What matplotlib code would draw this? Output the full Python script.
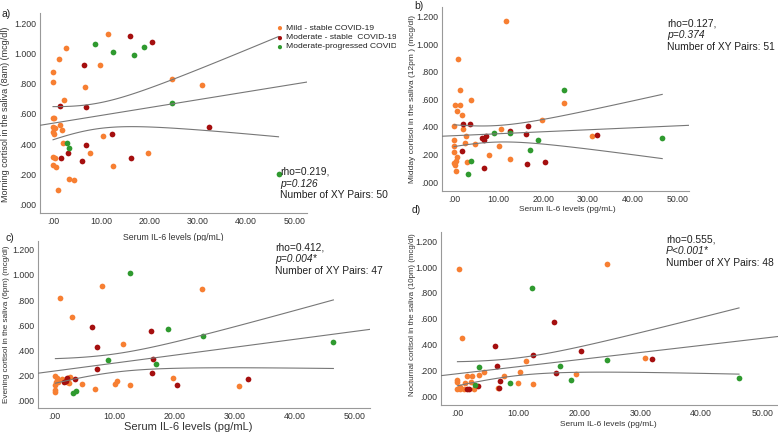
import numpy as np
import matplotlib
matplotlib.use("Agg")
import matplotlib.pyplot as plt
from matplotlib.transforms import Bbox

plt.rcParams['font.family'] = ['Liberation Sans', 'DejaVu Sans']

# Panel a : morning cortisol (8am)
a_mild_x = [11.4, 2.7, 1.2, 0.0, 0.0, 9.8, 6.7, 2.2, 24.7, 30.9, 0.0, 0.3, 1.5, 0.0, 0.5,
            1.8, 0.0, 0.2, 10.3, 2.1, 7.7, 19.6, 0.0, 0.5, 0.0, 0.6, 12.4, 3.3, 4.3, 1.0]
a_mild_y = [1.128, 1.035, 0.962, 0.877, 0.813, 0.923, 0.778, 0.694, 0.833, 0.795, 0.575, 0.575,
            0.529, 0.513, 0.507, 0.491, 0.478, 0.467, 0.452, 0.407, 0.339, 0.339, 0.313, 0.306,
            0.264, 0.249, 0.258, 0.167, 0.163, 0.095]
a_mod_x = [16.0, 20.4, 6.4, 1.4, 6.9, 12.3, 32.3, 6.8, 3.2, 1.7, 6.0, 16.2]
a_mod_y = [1.117, 1.075, 0.923, 0.654, 0.648, 0.469, 0.511, 0.392, 0.341, 0.306, 0.286, 0.311]
a_prog_x = [8.7, 12.4, 16.8, 18.8, 24.7, 2.8, 3.4, 46.7]
a_prog_y = [1.066, 1.007, 0.991, 1.044, 0.674, 0.405, 0.374, 0.205]

# Panel b : midday cortisol (12pm)
b_mild_x = [11.6, 0.9, 1.3, 3.7, 24.7, 0.1, 1.4, 0.6, 1.7, 0.0, 2.1, 19.7, 10.5, 0.0, 2.6,
            2.4, 4.6, 0.0, 10.0, 0.0, 0.7, 7.9, 0.4, 0.0, 0.2, 2.9, 12.5, 0.4, 30.8]
b_mild_y = [1.166, 0.895, 0.667, 0.594, 0.575, 0.562, 0.562, 0.514, 0.490, 0.410, 0.385, 0.448,
            0.383, 0.303, 0.332, 0.286, 0.276, 0.264, 0.264, 0.218, 0.184, 0.196, 0.150, 0.136,
            0.126, 0.145, 0.165, 0.080, 0.335]
b_mod_x = [2.1, 3.5, 16.5, 12.5, 16.1, 32.1, 6.3, 7.1, 6.8, 1.7, 16.4, 20.4, 6.8]
b_mod_y = [0.422, 0.424, 0.407, 0.371, 0.347, 0.342, 0.322, 0.334, 0.303, 0.225, 0.133, 0.143, 0.099]
b_prog_x = [24.7, 8.9, 12.6, 18.9, 46.6, 17.0, 3.7, 3.1]
b_prog_y = [0.667, 0.356, 0.356, 0.308, 0.320, 0.236, 0.153, 0.061]

# Panel c : evening cortisol (6pm)
c_mild_x = [8.0, 1.0, 24.7, 2.9, 11.5, 19.8, 10.5, 10.1, 12.6, 6.8, 30.8, 4.6, 0.2, 0.3, 0.2,
            0.2, 0.2, 0.7, 1.3, 1.6, 2.1, 2.5, 2.6, 2.3, 0.5]
c_mild_y = [0.913, 0.817, 0.884, 0.667, 0.446, 0.178, 0.159, 0.130, 0.125, 0.088, 0.114, 0.135,
            0.196, 0.151, 0.125, 0.080, 0.066, 0.151, 0.170, 0.164, 0.151, 0.138, 0.188, 0.178, 0.178]
c_mod_x = [6.3, 16.2, 7.1, 16.5, 7.1, 16.3, 20.4, 32.2, 3.5, 2.1, 1.9, 1.6]
c_mod_y = [0.584, 0.557, 0.428, 0.332, 0.247, 0.215, 0.122, 0.173, 0.173, 0.178, 0.159, 0.151]
c_prog_x = [12.6, 18.9, 24.8, 46.5, 8.9, 16.9, 3.1, 3.7]
c_prog_y = [1.014, 0.573, 0.510, 0.467, 0.321, 0.292, 0.056, 0.072]

# Panel d : nocturnal cortisol (10pm)
d_mild_x = [0.2, 24.5, 0.7, 11.3, 30.7, 19.5, 10.2, 7.7, 9.9, 12.4, 4.4, 3.5, 2.4, 1.6, 0.0,
            0.0, 2.2, 1.3, 0.4, 0.0, 0.4, 1.0, 2.7, 6.6]
d_mild_y = [0.981, 1.020, 0.450, 0.275, 0.298, 0.177, 0.193, 0.159, 0.108, 0.095, 0.193, 0.167,
            0.162, 0.162, 0.131, 0.116, 0.116, 0.103, 0.072, 0.062, 0.059, 0.059, 0.059, 0.069]
d_mod_x = [6.1, 15.9, 20.2, 31.9, 12.4, 6.5, 16.1, 6.9, 3.3, 6.8, 1.5, 1.9]
d_mod_y = [0.393, 0.573, 0.349, 0.288, 0.319, 0.239, 0.180, 0.118, 0.080, 0.064, 0.059, 0.059]
d_prog_x = [12.3, 24.6, 16.8, 3.5, 18.7, 8.7, 2.9, 46.2]
d_prog_y = [0.842, 0.283, 0.239, 0.231, 0.126, 0.103, 0.092, 0.144]

group_names = ['Mild - stable COVID-19', 'Moderate - stable  COVID-19', 'Moderate-progressed COVID-19']
group_colors = ['#f77f32', '#a50f0f', '#2f9a2f']

ylabels = ['Morning cortisol in the saliva (8am) (mcg/dl)',
           'Midday cortisol in the saliva (12pm ) (mcg/dl)',
           'Evening cortisol in the saliva (6pm) (mcg/dl)',
           'Nocturnal cortisol in the saliva (10pm) (mcg/dl)']
stats = [('rho=0.219,', 'p=0.126', 'Number of XY Pairs: 50'),
         ('rho=0.127,', 'p=0.374', 'Number of XY Pairs: 51'),
         ('rho=0.412,', 'p=0.004*', 'Number of XY Pairs: 47'),
         ('rho=0.555,', 'P<0.001*', 'Number of XY Pairs: 48')]
xticks = [0, 10, 20, 30, 40, 50]
yticks = [0, 0.2, 0.4, 0.6, 0.8, 1.0, 1.2]

W, H = 778, 433
fig = plt.figure(figsize=(W / 100, H / 100), dpi=100)


def add_ax(l, t, r, b):
    return fig.add_axes([l / W, 1 - b / H, (r - l) / W, (b - t) / H])


axes = [add_ax(40, 13, 307, 213), add_ax(442, 7, 689, 191),
        add_ax(38, 241, 370, 408), add_ax(441, 232, 778, 405)]
ylims = [(-0.055, 1.268), (-0.065, 1.27), (-0.06, 1.27), (-0.064, 1.27)]
data = [(a_mild_x, a_mild_y, a_mod_x, a_mod_y, a_prog_x, a_prog_y),
        (b_mild_x, b_mild_y, b_mod_x, b_mod_y, b_prog_x, b_prog_y),
        (c_mild_x, c_mild_y, c_mod_x, c_mod_y, c_prog_x, c_prog_y),
        (d_mild_x, d_mild_y, d_mod_x, d_mod_y, d_prog_x, d_prog_y)]
# label placement (axes coords) and target lengths in pixels
ylab_xy = [(-0.131, 0.495), (-0.121, 0.5), (-0.096, 0.5), (-0.086, 0.52)]
ylab_len = [178, 170, 160, 166]
xlab_xy = [(0.498, -0.10), (0.506, -0.082), (0.452, -0.085), (0.496, -0.095)]
xlab_fs = [6.3, 6.0, 8.0, 6.0]
grey = '#777777'
txt = '#333333'

for i, ax in enumerate(axes):
    d = data[i]
    for g in range(3):
        ax.scatter(d[2 * g], d[2 * g + 1], s=17, color=group_colors[g], linewidths=0, zorder=3)

    # linear fit with 95% mean confidence band
    x = np.concatenate([d[0], d[2], d[4]])
    y = np.concatenate([d[1], d[3], d[5]])
    n = len(x)
    k, c0 = np.polyfit(x, y, 1)
    resid = y - (k * x + c0)
    s = np.sqrt(np.sum(resid ** 2) / (n - 2))
    sxx = np.sum((x - x.mean()) ** 2)
    xl = np.linspace(-3, 53, 50)
    ax.plot(xl, k * xl + c0, color=grey, lw=0.8, zorder=4)
    xc = np.linspace(x.min(), x.max(), 100)
    se = s * np.sqrt(1 / n + (xc - x.mean()) ** 2 / sxx)
    ax.plot(xc, k * xc + c0 + 2.01 * se, color=grey, lw=0.8, zorder=4)
    ax.plot(xc, k * xc + c0 - 2.01 * se, color=grey, lw=0.8, zorder=4)

    ax.set_xlim(-2.7, 52.6)
    ax.set_ylim(*ylims[i])
    ax.set_xticks(xticks)
    ax.set_xticklabels(['.00' if v == 0 else f'{v:.2f}' for v in xticks])
    ax.set_yticks(yticks)
    ax.set_yticklabels([f'{v:.3f}'.lstrip('0') if v < 1 else f'{v:.3f}' for v in yticks])
    ax.tick_params(length=0, labelsize=6.3, colors=txt, pad=3)
    for sp in ['top', 'right']:
        ax.spines[sp].set_visible(False)
    for sp in ['left', 'bottom']:
        ax.spines[sp].set_color('#999999')
        ax.spines[sp].set_linewidth(0.8)
    ax.set_xlabel('Serum IL-6 levels (pg/mL)', fontsize=xlab_fs[i], color=txt)
    ax.xaxis.set_label_coords(*xlab_xy[i])
    ax.set_ylabel(ylabels[i], fontsize=6, color=txt, va='center')
    ax.yaxis.set_label_coords(*ylab_xy[i])

# scale the y labels so they span the same length as in the original
fig.canvas.draw()
r = fig.canvas.get_renderer()
for i, ax in enumerate(axes):
    lab = ax.yaxis.label
    h = lab.get_window_extent(r).height
    lab.set_fontsize(6 * ylab_len[i] / h)

# stats text (figure pixel positions of first line)
stat_pos = [(280, 172), (667, 24), (275, 248), (666, 240)]
for (px, py), st in zip(stat_pos, stats):
    for j, line in enumerate(st):
        fig.text(px / W, 1 - (py + j * 11.5) / H, line, fontsize=7.4, color='#222222',
                 style='italic' if j == 1 else 'normal', va='center', ha='left')

# panel letters
for lab, (px, py) in zip(['a)', 'b)', 'c)', 'd)'], [(2, 14), (414, 6), (6, 238), (412, 210)]):
    fig.text(px / W, 1 - py / H, lab, fontsize=7.5, color='#222222', va='center', ha='left')

# legend in panel a, clipped by panel b like the original
clip = Bbox.from_extents(0, 0, 396, H)
for g in range(3):
    yy = 1 - (28 + g * 9.5) / H
    fig.text(279 / W, yy, '\u25cf', fontsize=7, color=group_colors[g], va='center', ha='center')
    t = fig.text(286 / W, yy, group_names[g], fontsize=6.1, color='#222222', va='center', ha='left')
    t.set_clip_box(clip)
    t.set_clip_on(True)

fig.savefig('out.png', dpi=100)
